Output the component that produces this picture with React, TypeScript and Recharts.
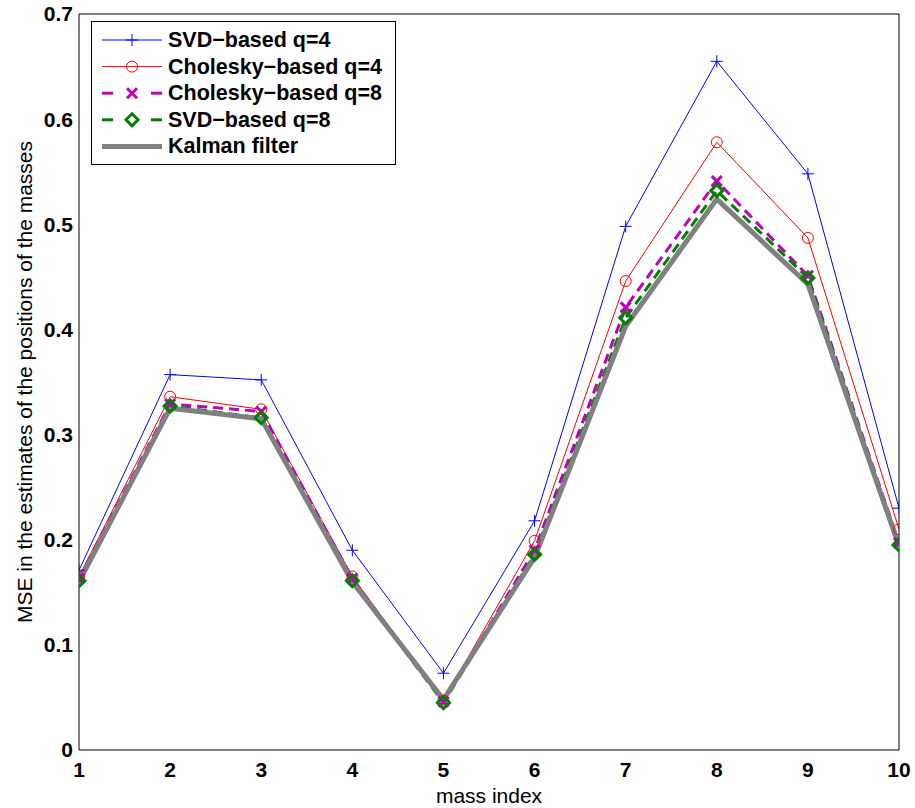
import React from 'react';
import { LineChart, Line, XAxis, YAxis, Legend } from 'recharts';

const massIndex = [1, 2, 3, 4, 5, 6, 7, 8, 9, 10];
const svdQ4 = [0.171, 0.357, 0.352, 0.19, 0.073, 0.218, 0.498, 0.655, 0.548, 0.23];
const cholQ4 = [0.165, 0.336, 0.324, 0.165, 0.047, 0.199, 0.446, 0.578, 0.487, 0.21];
const cholQ8 = [0.163, 0.329, 0.322, 0.163, 0.046, 0.19, 0.421, 0.541, 0.451, 0.197];
const svdQ8 = [0.161, 0.327, 0.316, 0.161, 0.045, 0.186, 0.411, 0.532, 0.449, 0.195];
const kalman = [0.16, 0.325, 0.315, 0.16, 0.048, 0.183, 0.403, 0.524, 0.443, 0.194];

const xTicks = [1, 2, 3, 4, 5, 6, 7, 8, 9, 10];
const yTicks = [0, 0.1, 0.2, 0.3, 0.4, 0.5, 0.6, 0.7];

const seriesNames = ['SVD−based q=4', 'Cholesky−based q=4', 'Cholesky−based q=8', 'SVD−based q=8', 'Kalman filter'];

const data = massIndex.map((m, i) => ({
  m,
  svdQ4: svdQ4[i],
  cholQ4: cholQ4[i],
  cholQ8: cholQ8[i],
  svdQ8: svdQ8[i],
  kalman: kalman[i],
}));

const FONT = '"Liberation Sans", Arial, Helvetica, sans-serif';
const BLUE = '#0000FF';
const RED = '#FF0000';
const MAGENTA = '#BF00BF';
const GREEN = '#008000';
const GRAY = '#808080';

function Marker({ kind, cx, cy }: { kind: string; cx: number; cy: number }) {
  if (cx == null || cy == null) return null;
  if (kind === 'plus') {
    return <path d={`M${cx - 6},${cy}H${cx + 6}M${cx},${cy - 6}V${cy + 6}`} stroke={BLUE} strokeWidth={1} fill="none" />;
  }
  if (kind === 'circle') {
    return <circle cx={cx} cy={cy} r={5.5} stroke={RED} strokeWidth={1} fill="none" />;
  }
  if (kind === 'x') {
    return <path d={`M${cx - 5},${cy - 5}L${cx + 5},${cy + 5}M${cx - 5},${cy + 5}L${cx + 5},${cy - 5}`} stroke={MAGENTA} strokeWidth={3} fill="none" />;
  }
  if (kind === 'diamond') {
    return <path d={`M${cx},${cy - 6}L${cx + 6},${cy}L${cx},${cy + 6}L${cx - 6},${cy}Z`} stroke={GREEN} strokeWidth={3} fill="none" />;
  }
  return null;
}

const makeDot = (kind: string) => (props: any) => (
  <Marker key={`${kind}-${props.index}`} kind={kind} cx={props.cx} cy={props.cy} />
);

const legendRows = [
  { kind: 'plus', color: BLUE, w: 1, dashed: false },
  { kind: 'circle', color: RED, w: 1, dashed: false },
  { kind: 'x', color: MAGENTA, w: 3, dashed: true },
  { kind: 'diamond', color: GREEN, w: 3, dashed: true },
  { kind: 'none', color: GRAY, w: 5, dashed: false },
];

const LegendBox = () => (
  <div style={{ width: 305, height: 144, border: '1px solid #000', background: '#fff', boxSizing: 'border-box' }}>
    <svg width={303} height={142} style={{ display: 'block' }}>
      {legendRows.map((r, i) => {
        const y = 18 + i * 26.6;
        return (
          <g key={i}>
            {r.dashed ? (
              <>
                <line x1={10} x2={21} y1={y} y2={y} stroke={r.color} strokeWidth={r.w} />
                <line x1={59} x2={70} y1={y} y2={y} stroke={r.color} strokeWidth={r.w} />
              </>
            ) : (
              <line x1={10} x2={70} y1={y} y2={y} stroke={r.color} strokeWidth={r.w} />
            )}
            <Marker kind={r.kind} cx={40} cy={y} />
            <text x={76} y={y} dominantBaseline="central" fontFamily={FONT} fontWeight="bold" fontSize={21.5} fill="#000">
              {seriesNames[i]}
            </text>
          </g>
        );
      })}
    </svg>
  </div>
);

const tickStyle = { fontFamily: FONT, fontWeight: 'bold' as const, fontSize: 21, fill: '#000' };

export default function App() {
  return (
    <div style={{ position: 'absolute', left: 0, top: 0, width: 915, height: 808 }}>
      <LineChart width={915} height={808} data={data} margin={{ top: 14, right: 16, bottom: 0, left: 0 }}>
        <XAxis
          xAxisId="x"
          dataKey="m"
          type="number"
          domain={[1, 10]}
          ticks={xTicks}
          allowDataOverflow
          height={58}
          tickLine={false}
          tickSize={0}
          tickMargin={12}
          axisLine={{ stroke: '#000', strokeWidth: 1 }}
          tick={tickStyle}
          label={{
            content: (p: any) => {
              const vb = p.viewBox || {};
              return (
                <text x={vb.x + vb.width / 2} y={vb.y + 53} textAnchor="middle" fontFamily={FONT} fontSize={21} fill="#000">
                  mass index
                </text>
              );
            },
          }}
        />
        <XAxis xAxisId="xb" type="number" domain={[1, 10]} ticks={xTicks} allowDataOverflow orientation="bottom" mirror tick={false} tickSize={6} tickLine={{ stroke: '#000' }} axisLine={false} height={6} />
        <XAxis xAxisId="xt" type="number" domain={[1, 10]} ticks={xTicks} allowDataOverflow orientation="top" mirror tick={false} tickSize={6} tickLine={{ stroke: '#000' }} axisLine={{ stroke: '#000' }} height={6} />
        <YAxis
          yAxisId="y"
          type="number"
          domain={[0, 0.7]}
          ticks={yTicks}
          allowDataOverflow
          width={79}
          tickLine={false}
          tickSize={0}
          tickMargin={6}
          axisLine={{ stroke: '#000', strokeWidth: 1 }}
          tick={tickStyle}
          label={{
            content: (p: any) => {
              const vb = p.viewBox || {};
              const cx = vb.x + 32;
              const cy = vb.y + vb.height / 2;
              return (
                <text x={cx} y={cy} transform={`rotate(-90, ${cx}, ${cy})`} textAnchor="middle" fontFamily={FONT} fontSize={21} fill="#000">
                  MSE in the estimates of the positions of the masses
                </text>
              );
            },
          }}
        />
        <YAxis yAxisId="yl" type="number" domain={[0, 0.7]} ticks={yTicks} allowDataOverflow orientation="left" mirror tick={false} tickSize={6} tickLine={{ stroke: '#000' }} axisLine={false} width={6} />
        <YAxis yAxisId="yr" type="number" domain={[0, 0.7]} ticks={yTicks} allowDataOverflow orientation="right" mirror tick={false} tickSize={6} tickLine={{ stroke: '#000' }} axisLine={{ stroke: '#000' }} width={6} />

        <Line xAxisId="x" yAxisId="y" type="linear" dataKey="svdQ4" name={seriesNames[0]} stroke={BLUE} strokeWidth={1} dot={makeDot('plus')} activeDot={false} isAnimationActive={false} />
        <Line xAxisId="x" yAxisId="y" type="linear" dataKey="cholQ4" name={seriesNames[1]} stroke={RED} strokeWidth={1} dot={makeDot('circle')} activeDot={false} isAnimationActive={false} />
        <Line xAxisId="x" yAxisId="y" type="linear" dataKey="cholQ8" name={seriesNames[2]} stroke={MAGENTA} strokeWidth={3} strokeDasharray="10 6" dot={makeDot('x')} activeDot={false} isAnimationActive={false} />
        <Line xAxisId="x" yAxisId="y" type="linear" dataKey="svdQ8" name={seriesNames[3]} stroke={GREEN} strokeWidth={3} strokeDasharray="10 6" dot={makeDot('diamond')} activeDot={false} isAnimationActive={false} />
        <Line xAxisId="x" yAxisId="y" type="linear" dataKey="kalman" name={seriesNames[4]} stroke={GRAY} strokeWidth={5} dot={false} activeDot={false} isAnimationActive={false} />

        <Legend
          layout="horizontal"
          verticalAlign="middle"
          align="center"
          content={() => <LegendBox />}
          wrapperStyle={{ left: 91, top: 21, width: 305, height: 144 }}
        />
      </LineChart>
    </div>
  );
}
